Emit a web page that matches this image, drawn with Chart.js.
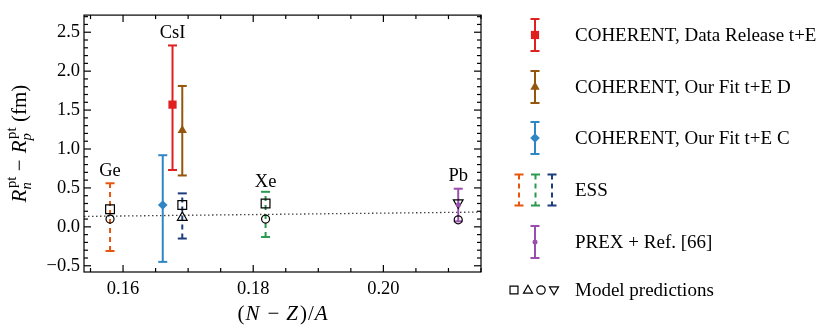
<!DOCTYPE html>
<html>
<head>
<meta charset="utf-8">
<script src="https://cdn.jsdelivr.net/npm/chart.js@4/dist/chart.umd.min.js"></script>
<style>
  html, body { margin: 0; padding: 0; background: #fff; }
</style>
</head>
<body>
<canvas id="plot" width="830" height="335"></canvas>
<script>
// ---- data ----
const xRange = [0.154, 0.215];
const yRange = [-0.58, 2.72];
const xTicks = [0.16, 0.18, 0.20];
const xTickLabels = ["0.16", "0.18", "0.20"];
const yTicks = [-0.5, 0, 0.5, 1, 1.5, 2, 2.5];
const yTickLabels = ["\u22120.5", "0.0", "0.5", "1.0", "1.5", "2.0", "2.5"];

// nucleus labels
const nuclei = ["Ge", "CsI", "Xe", "Pb"];
const nucleusX = [0.1580, 0.1676, 0.1819, 0.2115];
const nucleusY = [0.72, 2.49, 0.57, 0.65];

// COHERENT CsI results (Data Release, Fit D, Fit C)
const cohNames = ["COHERENT, Data Release t+E", "COHERENT, Our Fit t+E D", "COHERENT, Our Fit t+E C"];
const cohX = [0.1676, 0.1691, 0.1661];
const cohY = [1.57, 1.24, 0.28];
const cohLo = [0.73, 0.66, -0.45];
const cohHi = [2.33, 1.81, 0.92];

// ESS projections (Ge, CsI, Xe)
const essX = [0.1580, 0.1691, 0.1819];
const essLo = [-0.31, -0.15, -0.13];
const essHi = [0.56, 0.43, 0.45];

// PREX + Ref. [66] (Pb)
const prexX = [0.2115];
const prexY = [0.28];
const prexLo = [0.07];
const prexHi = [0.49];

// model predictions
const squareX = [0.1580, 0.1691, 0.1819];
const squareY = [0.225, 0.28, 0.30];
const triUpX = [0.1691];
const triUpY = [0.12];
const circleX = [0.1580, 0.1819, 0.2115];
const circleY = [0.10, 0.10, 0.09];
const triDownX = [0.2115];
const triDownY = [0.31];

// dotted trend line
const trendX = [0.154, 0.215];
const trendY = [0.134, 0.19];

// ---- styling ----
const FONT = "Liberation Serif";
const FS = 18.5;   // ticks, nucleus names
const LS = 19;     // legend
const TS = 21;     // axis titles
const cohColors = ["#e0201f", "#94560c", "#2f86c4"];
const cohStyles = ["rect", "triangle", "rectRot"];
const cohRadius = [5.8, 5.4, 4.8];
const orange = "#e8550f", green = "#2a9a4e", navy = "#1d3d7c";
const essColors = [orange, navy, green];      // Ge, CsI, Xe
const essLegendColors = [orange, green, navy];
const prexColor = "#9a4fae";

const pts = (xs, ys) => xs.map((x, i) => ({ x: x, y: ys[i] }));

function errBar(x, lo, hi, color, dash) {
  return {
    data: [{ x: x, y: lo }, { x: x, y: hi }],
    showLine: true,
    borderColor: color,
    borderWidth: 2,
    borderDash: dash || [],
    pointStyle: "line",
    pointRadius: 4.5,
    pointBorderColor: color,
    pointBorderWidth: 2,
    order: 5,
  };
}

function marker(xs, ys, style, radius, fill, stroke, bw, rot) {
  return {
    data: pts(xs, ys),
    showLine: false,
    pointStyle: style,
    pointRadius: radius,
    pointRotation: rot || 0,
    pointBackgroundColor: fill,
    pointBorderColor: stroke,
    pointBorderWidth: bw,
    order: 1,
  };
}

const datasets = [];
datasets.push({
  data: pts(trendX, trendY),
  showLine: true,
  borderColor: "#444",
  borderWidth: 1.3,
  borderDash: [1.5, 2.5],
  pointRadius: 0,
  order: 10,
});
essX.forEach((x, i) => datasets.push(errBar(x, essLo[i], essHi[i], essColors[i], [5, 4])));
cohX.forEach((x, i) => {
  datasets.push(errBar(x, cohLo[i], cohHi[i], cohColors[i]));
  datasets.push(marker([x], [cohY[i]], cohStyles[i], cohRadius[i], cohColors[i], cohColors[i], 0));
});
datasets.push(errBar(prexX[0], prexLo[0], prexHi[0], prexColor));
datasets.push(marker(prexX, prexY, "circle", 2.5, prexColor, prexColor, 0));
datasets.push(marker(squareX, squareY, "rect", 6.2, "rgba(0,0,0,0)", "#000", 1.2));
datasets.push(marker(triUpX, triUpY, "triangle", 5.6, "rgba(0,0,0,0)", "#000", 1.2));
datasets.push(marker(circleX, circleY, "circle", 4, "rgba(0,0,0,0)", "#000", 1.2));
datasets.push(marker(triDownX, triDownY, "triangle", 5.6, "rgba(0,0,0,0)", "#000", 1.2, 180));

// rich text: parts are {t, it}, {sup, sub} or {gap}
function font(it, size) {
  return (it ? "italic " : "") + size + "px '" + FONT + "'";
}
function drawRich(ctx, parts, cx, cy, rotate) {
  const small = TS * 0.7;
  const widths = parts.map(p => {
    if (p.gap !== undefined) return p.gap;
    if (p.sup !== undefined) {
      ctx.font = font(false, small);
      const a = ctx.measureText(p.sup).width;
      ctx.font = font(true, small);
      const b = ctx.measureText(p.sub).width;
      return Math.max(a, b) + 1;
    }
    ctx.font = font(p.it, TS);
    return ctx.measureText(p.t).width;
  });
  const total = widths.reduce((s, w) => s + w, 0);
  ctx.save();
  ctx.translate(cx, cy);
  if (rotate) ctx.rotate(-Math.PI / 2);
  ctx.fillStyle = "#000";
  ctx.textBaseline = "alphabetic";
  ctx.textAlign = "left";
  let x = -total / 2;
  const base = TS * 0.33;
  parts.forEach((p, i) => {
    if (p.gap !== undefined) {
      // spacing only
    } else if (p.sup !== undefined) {
      ctx.font = font(false, small);
      ctx.fillText(p.sup, x + 1.5, base - TS * 0.45);
      ctx.font = font(true, small);
      ctx.fillText(p.sub, x, base + TS * 0.25);
    } else {
      ctx.font = font(p.it, TS);
      ctx.fillText(p.t, x, base);
    }
    x += widths[i];
  });
  ctx.restore();
}

const framePlugin = {
  id: "frame",
  afterDatasetsDraw(chart) {
    const { ctx, chartArea: a, scales: { x, y } } = chart;
    ctx.save();
    ctx.strokeStyle = "#000";
    ctx.lineWidth = 1.2;
    ctx.strokeRect(a.left, a.top, a.right - a.left, a.bottom - a.top);
    // inward ticks on all sides
    const tick = (x1, y1, x2, y2) => { ctx.beginPath(); ctx.moveTo(x1, y1); ctx.lineTo(x2, y2); ctx.stroke(); };
    for (let k = Math.ceil(x.min / 0.005 - 1e-6); k * 0.005 <= x.max + 1e-9; k++) {
      const v = k * 0.005;
      const px = x.getPixelForValue(v);
      const len = xTicks.some(t => Math.abs(t - v) < 1e-6) ? 7 : 4;
      tick(px, a.bottom, px, a.bottom - len);
      tick(px, a.top, px, a.top + len);
    }
    for (let k = Math.ceil(y.min / 0.1 - 1e-6); k * 0.1 <= y.max + 1e-9; k++) {
      const v = k * 0.1;
      const py = y.getPixelForValue(v);
      const len = yTicks.some(t => Math.abs(t - v) < 1e-6) ? 7 : 4;
      tick(a.left, py, a.left + len, py);
      tick(a.right, py, a.right - len, py);
    }
    // nucleus names
    ctx.fillStyle = "#000";
    ctx.font = font(false, FS);
    ctx.textAlign = "center";
    ctx.textBaseline = "middle";
    nuclei.forEach((n, i) => ctx.fillText(n, x.getPixelForValue(nucleusX[i]), y.getPixelForValue(nucleusY[i])));
    ctx.restore();

    // axis titles
    drawRich(ctx, [
      { t: "R", it: true }, { sup: "pt", sub: "n" }, { gap: 6 }, { t: "\u2212" }, { gap: 6 },
      { t: "R", it: true }, { sup: "pt", sub: "p" }, { gap: 6 }, { t: "(fm)" },
    ], 19, (a.top + a.bottom) / 2, true);
    drawRich(ctx, [
      { t: "(" }, { gap: 1 }, { t: "N", it: true }, { gap: 8 }, { t: "\u2212" }, { gap: 7 },
      { t: "Z", it: true }, { gap: 2 }, { t: ")" }, { gap: 1 }, { t: "/" }, { gap: 1 }, { t: "A", it: true },
    ], (a.left + a.right) / 2, 313, false);
  },
};

const legendPlugin = {
  id: "sideLegend",
  afterDraw(chart) {
    const ctx = chart.ctx;
    const mx = 535, tx = 575;
    const rows = [35, 87, 138, 190, 242, 290];
    const names = cohNames.concat(["ESS", "PREX + Ref. [66]", "Model predictions"]);
    const bar = (x, yc, half, color, dash) => {
      ctx.save();
      ctx.strokeStyle = color;
      ctx.lineWidth = 2;
      ctx.setLineDash(dash || []);
      ctx.beginPath(); ctx.moveTo(x, yc - half); ctx.lineTo(x, yc + half); ctx.stroke();
      ctx.setLineDash([]);
      ctx.beginPath();
      ctx.moveTo(x - 4.5, yc - half); ctx.lineTo(x + 4.5, yc - half);
      ctx.moveTo(x - 4.5, yc + half); ctx.lineTo(x + 4.5, yc + half);
      ctx.stroke();
      ctx.restore();
    };
    const pt = (style, r, x, yc, fill, stroke, bw, rot) => {
      ctx.save();
      ctx.fillStyle = fill;
      ctx.strokeStyle = stroke;
      ctx.lineWidth = bw;
      Chart.helpers.drawPoint(ctx, { pointStyle: style, radius: r, rotation: rot || 0, borderWidth: bw }, x, yc);
      ctx.restore();
    };
    cohColors.forEach((c, i) => {
      bar(mx, rows[i], 16, c);
      pt(cohStyles[i], cohRadius[i], mx, rows[i], c, c, 0);
    });
    essLegendColors.forEach((c, i) => bar(519 + i * 16.5, rows[3], 15.5, c, [5, 4]));
    bar(mx, rows[4], 16, prexColor);
    pt("circle", 2.5, mx, rows[4], prexColor, prexColor, 0);
    const none = "rgba(0,0,0,0)";
    pt("rect", 5.6, 514, rows[5], none, "#000", 1.2);
    pt("triangle", 5.2, 528, rows[5] + 0.5, none, "#000", 1.2);
    pt("circle", 4.2, 541, rows[5], none, "#000", 1.2);
    pt("triangle", 5.2, 554, rows[5] - 0.5, none, "#000", 1.2, 180);

    ctx.save();
    ctx.fillStyle = "#000";
    ctx.font = font(false, LS);
    ctx.textAlign = "left";
    ctx.textBaseline = "middle";
    names.forEach((n, i) => ctx.fillText(n, tx, rows[i] + 1));
    ctx.restore();
  },
};

const chart = new Chart(document.getElementById("plot"), {
  type: "scatter",
  data: { datasets: datasets },
  options: {
    responsive: false,
    animation: false,
    devicePixelRatio: 1,
    events: [],
    layout: { padding: { top: 8, right: 349, left: 0, bottom: 0 } },
    plugins: { legend: { display: false }, tooltip: { enabled: false } },
    scales: {
      x: {
        type: "linear",
        min: xRange[0],
        max: xRange[1],
        grid: { display: false, drawTicks: false },
        border: { display: false },
        afterBuildTicks: (s) => { s.ticks = xTicks.map(v => ({ value: v })); },
        afterFit: (s) => { s.height = 63; },
        ticks: {
          padding: 6,
          color: "#000",
          font: { family: FONT, size: FS },
          maxRotation: 0,
          callback: (v) => xTickLabels[xTicks.findIndex(t => Math.abs(t - v) < 1e-9)],
        },
      },
      y: {
        type: "linear",
        min: yRange[0],
        max: yRange[1],
        grid: { display: false, drawTicks: false },
        border: { display: false },
        afterBuildTicks: (s) => { s.ticks = yTicks.map(v => ({ value: v })); },
        afterFit: (s) => { s.width = 84; },
        ticks: {
          padding: 4,
          color: "#000",
          font: { family: FONT, size: FS },
          callback: (v) => yTickLabels[yTicks.findIndex(t => Math.abs(t - v) < 1e-9)],
        },
      },
    },
  },
  plugins: [framePlugin, legendPlugin],
});
</script>
</body>
</html>
